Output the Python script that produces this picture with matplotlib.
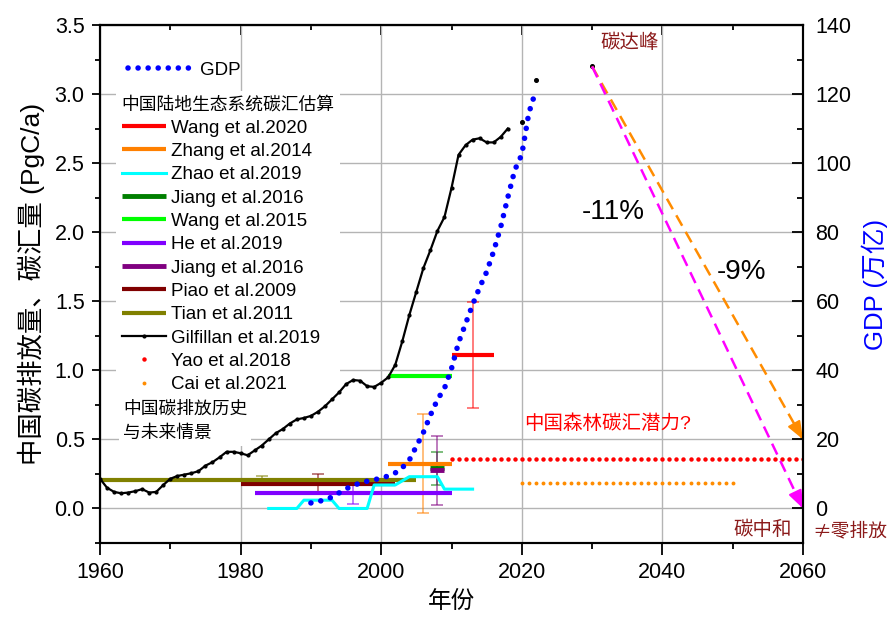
import matplotlib.pyplot as plt
import numpy as np
from matplotlib.ticker import MultipleLocator, NullFormatter

plt.rcParams['font.family'] = ['Liberation Sans', 'Noto Sans CJK SC', 'DejaVu Sans']

# Gilfillan et al. 2019: China fossil carbon emissions, PgC/a
emis_years = np.arange(1960, 2019)
emis = [0.215, 0.15, 0.12, 0.11, 0.115, 0.125, 0.14, 0.115, 0.12, 0.17,
        0.215, 0.235, 0.245, 0.255, 0.27, 0.31, 0.335, 0.37, 0.41, 0.41,
        0.40, 0.385, 0.42, 0.455, 0.50, 0.545, 0.575, 0.615, 0.645, 0.655,
        0.67, 0.70, 0.74, 0.79, 0.84, 0.90, 0.93, 0.925, 0.885, 0.88,
        0.91, 0.95, 1.04, 1.21, 1.40, 1.57, 1.74, 1.87, 2.01, 2.11,
        2.32, 2.56, 2.63, 2.67, 2.68, 2.65, 2.65, 2.69, 2.75]
# later points and the 2030 peak
emis_extra_years = [2020, 2022, 2030]
emis_extra = [2.80, 3.10, 3.20]

# GDP, 万亿元
gdp_years = np.arange(1990, 2023)
gdp = [1.6, 2.0, 2.5, 3.3, 4.5, 5.7, 6.6, 7.4, 7.9, 8.3,
       8.8, 9.4, 10.3, 11.8, 14.0, 18.0, 22.0, 27.0, 31.5, 34.8,
       40.5, 48.0, 53.5, 59.0, 64.0, 68.5, 74.5, 81.5, 90.0, 98.0,
       102.5, 114.5, 121.0]

# land sink estimates: label, colour, start, end, value, errorbar year, error
sink_names = ['Wang et al.2020', 'Zhang et al.2014', 'Jiang et al.2016', 'Wang et al.2015',
              'He et al.2019', 'Jiang et al.2016', 'Piao et al.2009', 'Tian et al.2011']
sink_colors = ['#ff0000', '#ff8000', '#007f00', '#00ff00',
               '#8000ff', '#800080', '#800000', '#808000']
sink_start = [2010, 2001, 2007, 2001, 1982, 2007, 1980, 1960]
sink_end = [2016, 2010, 2009, 2010, 2010, 2009, 2002, 2005]
sink_value = [1.11, 0.324, 0.29, 0.96, 0.114, 0.275, 0.174, 0.208]
sink_err_year = [2013, 2006, 2008, None, 1996, 2008, 1991, 1983]
sink_err = [0.385, 0.36, 0.12, None, 0.08, 0.25, 0.072, 0.03]

# Zhao et al. 2019, stepped series
zhao_years = [1984, 1988, 1989, 1993, 1994, 1998, 1999, 2002, 2003, 2004, 2008, 2009, 2013]
zhao = [0.0, 0.0, 0.06, 0.06, 0.0, 0.0, 0.17, 0.17, 0.20, 0.23, 0.23, 0.14, 0.14]

# forest sink potential
yao_years = np.arange(2010, 2061)
yao_value = 0.355
cai_years = np.arange(2020, 2051)
cai_value = 0.186

# emission pathways after the peak
peak_year, peak_value = 2030, 3.2
target_year = 2060
path_end = [0.5, 0.0]
path_colors = ['#ff8c00', '#ff00ff']
path_labels = ['-9%', '-11%']
path_label_pos = [(2051.3, 1.71), (2033.0, 2.145)]

fig = plt.figure(figsize=(8.89, 6.24), dpi=100)
ax = fig.add_axes([100/889, 81/624, 703/889, 518/624])
ax2 = ax.twinx()

ax.set_xlim(1960, 2060)
ax.set_ylim(-0.25, 3.5)
ax2.set_ylim(-10, 140)

ax.set_xticks(range(1960, 2061, 20))
ax.xaxis.set_minor_locator(MultipleLocator(10))
ax.set_yticks(np.arange(0, 3.51, 0.5))
ax.yaxis.set_minor_locator(MultipleLocator(0.25))
ax.yaxis.set_major_formatter(plt.FormatStrFormatter('%.1f'))
ax2.set_yticks(range(0, 141, 20))
ax2.yaxis.set_minor_locator(MultipleLocator(10))

ax.grid(True, which='major', color='#b4b4b4', lw=1.0, zorder=0)
ax.set_axisbelow(True)

ax.tick_params(axis='x', which='major', direction='out', length=8.5, width=1.3, labelsize=15.5, pad=5)
ax.tick_params(axis='x', which='minor', direction='out', length=4.5, width=1.3)
ax.tick_params(axis='y', which='major', direction='out', length=6, width=1.3, labelsize=15.5, pad=5)
ax.tick_params(axis='y', which='minor', direction='out', length=3.5, width=1.3)
ax2.tick_params(axis='y', which='major', direction='in', length=8, width=1.3, labelsize=15.5, pad=9)
ax2.tick_params(axis='y', which='minor', direction='in', length=4.5, width=1.3)

top = ax.secondary_xaxis('top')
top.set_xticks(range(1960, 2061, 20))
top.xaxis.set_minor_locator(MultipleLocator(10))
top.xaxis.set_major_formatter(NullFormatter())
top.tick_params(which='major', direction='in', length=7, width=1.3)
top.tick_params(which='minor', direction='in', length=3.5, width=1.3)

for a in (ax, ax2, top):
    for s in a.spines.values():
        s.set_linewidth(1.5)

# sink estimates with error bars
handles = []
for i, name in enumerate(sink_names):
    if sink_err[i] is not None:
        ax.errorbar(sink_err_year[i], sink_value[i], yerr=sink_err[i], fmt='none',
                    ecolor=sink_colors[i], alpha=0.6, elinewidth=1.2, capsize=4, capthick=1.2, zorder=2)
    lw = 3.0 if sink_end[i] - sink_start[i] > 3 else 3.5
    h, = ax.plot([sink_start[i], sink_end[i]], [sink_value[i], sink_value[i]],
                 color=sink_colors[i], lw=lw, solid_capstyle='butt', zorder=3, label=name)
    handles.append(h)

zhao_line, = ax.plot(zhao_years, zhao, color='#00ffff', lw=2.2, zorder=3, label='Zhao et al.2019')
handles.insert(2, zhao_line)

emis_line, = ax.plot(emis_years, emis, color='black', lw=1.6, marker='o', ms=2.0, zorder=4,
                     label='Gilfillan et al.2019')
ax.plot(emis_extra_years, emis_extra, color='black', ls='none', marker='o', ms=2.6, zorder=4)

yao_pts, = ax.plot(yao_years, [yao_value] * len(yao_years), ls='none', marker='o', ms=3.2,
                   color='#ff0000', mec='none', zorder=3, label='Yao et al.2018')
cai_pts, = ax.plot(cai_years, [cai_value] * len(cai_years), ls='none', marker='o', ms=2.8,
                   color='#ff8c00', mec='none', zorder=3, label='Cai et al.2021')

# pathways from the peak down to 2060
for end, col, txt, pos in zip(path_end, path_colors, path_labels, path_label_pos):
    ax.plot([peak_year, target_year], [peak_value, end], color=col, lw=1.8,
            ls=(0, (4.8, 2.8)), zorder=5)
    back = 0.9
    slope = (end - peak_value) / (target_year - peak_year)
    ax.annotate('', xy=(target_year, end), xytext=(target_year - back, end - slope * back),
                arrowprops=dict(arrowstyle='-|>,head_length=0.9,head_width=0.35', color=col,
                                lw=1.5, shrinkA=0, shrinkB=0, mutation_scale=12),
                annotation_clip=False, zorder=6)
    ax.text(pos[0], pos[1], txt, fontsize=20, ha='center', va='center', zorder=6)

gdp_line, = ax2.plot(gdp_years, gdp, color='blue', lw=4.0, ls=(0, (0.01, 1.8)),
                     dash_capstyle='round', label='GDP')

ax.text(2035.4, 3.37, '碳达峰', color='#8b1a1a', fontsize=14, ha='center', va='center')
ax.text(2054.3, -0.155, '碳中和', color='#8b1a1a', fontsize=14, ha='center', va='center')
ax.text(2066.7, -0.165, '≠零排放', color='#8b1a1a', fontsize=13.5, ha='center', va='center',
        clip_on=False, family=['Noto Sans CJK SC', 'DejaVu Sans'])
ax.text(2032.2, 0.616, '中国森林碳汇潜力?', color='#ff0000', fontsize=14, ha='center', va='center')

ax.set_xlabel('年份', fontsize=17, labelpad=6)
ax.set_ylabel('中国碳排放量、碳汇量 (PgC/a)', fontsize=19, labelpad=7)
ax2.set_ylabel('GDP (万亿)', fontsize=18.5, color='blue', labelpad=7)

# legends sit under the emission curve but above the grid
leg1 = ax.legend(handles=[gdp_line], loc='upper left', bbox_to_anchor=(0.035, 0.936),
                 borderaxespad=0, fontsize=13.5, handlelength=3.4, handletextpad=0.43,
                 borderpad=0.2, frameon=False)
ax.add_artist(leg1)

leg_handles = handles + [emis_line, yao_pts, cai_pts]
leg2 = ax.legend(handles=leg_handles, loc='upper left', bbox_to_anchor=(0.023, 0.873),
                 borderaxespad=0, fontsize=13.5, title='中国陆地生态系统碳汇估算',
                 title_fontsize=12.8, alignment='left', handlelength=2.35, handletextpad=0.27,
                 labelspacing=0.33, borderpad=0.3, numpoints=1, fancybox=False,
                 facecolor='white', edgecolor='none', framealpha=1)
leg2.set_zorder(3.5)

ax.text(0.0327, 0.274, '中国碳排放历史\n与未来情景', transform=ax.transAxes, fontsize=12.8,
        va='top', ha='left', linespacing=1.55, zorder=3.5,
        bbox=dict(facecolor='white', edgecolor='none', pad=3))

fig.savefig('out.png', dpi=100)
